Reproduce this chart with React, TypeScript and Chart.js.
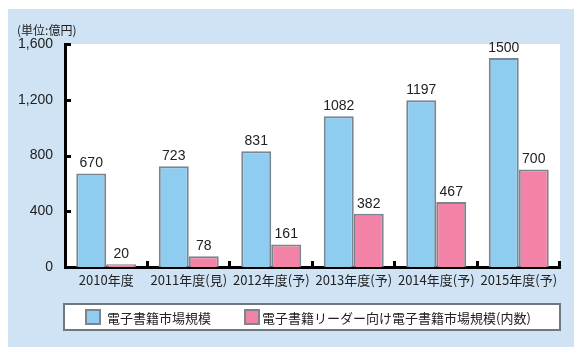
import React, { useEffect, useRef } from "react";
import { Chart, registerables } from "chart.js";

Chart.register(...registerables);

const categories = ["2010年度", "2011年度(見)", "2012年度(予)", "2013年度(予)", "2014年度(予)", "2015年度(予)"];
const marketSize = [670, 723, 831, 1082, 1197, 1500];
const readerMarket = [20, 78, 161, 382, 467, 700];
const seriesLabels = ["電子書籍市場規模", "電子書籍リーダー向け電子書籍市場規模(内数)"];
const yTicks = [0, 400, 800, 1200, 1600];
const unitLabel = "(単位:億円)";

const BLUE = "#8ecdf0";
const PINK = "#f283a6";
const EDGE = "#7b8591";
const PANEL = "#cfe3f5";
const FONT = '"Liberation Sans", "Noto Sans CJK JP", sans-serif';
const CJK = '"Noto Sans CJK JP", sans-serif';

const decor = {
  id: "decor",
  beforeDraw(chart: any) {
    const { ctx, chartArea } = chart;
    ctx.save();
    ctx.fillStyle = PANEL;
    ctx.fillRect(0, 1, 566, 338);
    ctx.fillStyle = "#ffffff";
    ctx.fillRect(chartArea.left, chartArea.top, chartArea.right - chartArea.left, chartArea.bottom - chartArea.top);
    ctx.fillStyle = "#222";
    ctx.font = "12px " + CJK;
    ctx.textBaseline = "middle";
    ctx.textAlign = "left";
    ctx.fillText(unitLabel, 9, 22);
    ctx.restore();
  },
  afterDraw(chart: any) {
    const { ctx, chartArea, scales } = chart;
    const y = scales.y;
    ctx.save();
    ctx.strokeStyle = "#000";
    ctx.lineWidth = 3;
    yTicks.forEach((v) => {
      if (v === 0) return;
      const py = Math.round(y.getPixelForValue(v)) + 0.5;
      ctx.beginPath();
      ctx.moveTo(chartArea.left, py);
      ctx.lineTo(chartArea.left + 6, py);
      ctx.stroke();
    });
    const n = categories.length;
    const w = (chartArea.right - chartArea.left) / n;
    for (let i = 1; i <= n; i++) {
      const px = Math.round(chartArea.left + i * w) - 0.5;
      ctx.beginPath();
      ctx.moveTo(px, chartArea.bottom);
      ctx.lineTo(px, chartArea.bottom - 6);
      ctx.stroke();
    }
    ctx.fillStyle = "#222";
    ctx.font = "14px " + FONT;
    ctx.textAlign = "center";
    ctx.textBaseline = "bottom";
    chart.data.datasets.forEach((ds: any, di: number) => {
      const meta = chart.getDatasetMeta(di);
      meta.data.forEach((bar: any, i: number) => {
        ctx.fillText(String(ds.data[i]), bar.x, bar.y - 3);
      });
    });
    const lx = 56, ly = 296, lw = 496, lh = 26;
    ctx.fillStyle = "#fff";
    ctx.fillRect(lx, ly, lw, lh);
    ctx.strokeStyle = "#6f7780";
    ctx.lineWidth = 2;
    ctx.strokeRect(lx, ly, lw, lh);
    const items = [
      { sx: 78, tx: 99 },
      { sx: 237, tx: 254 },
    ];
    chart.data.datasets.forEach((ds: any, di: number) => {
      const it = items[di];
      ctx.fillStyle = ds.backgroundColor;
      ctx.fillRect(it.sx, ly + 6, 14, 14);
      ctx.strokeStyle = EDGE;
      ctx.lineWidth = 2;
      ctx.strokeRect(it.sx, ly + 6, 14, 14);
      ctx.fillStyle = "#222";
      ctx.font = "13px " + CJK;
      ctx.textAlign = "left";
      ctx.textBaseline = "middle";
      ctx.fillText(ds.label, it.tx, ly + lh / 2 + 1);
    });
    ctx.restore();
  },
};

export default function App() {
  const ref = useRef<HTMLCanvasElement | null>(null);
  useEffect(() => {
    if (!ref.current) return;
    const chart = new Chart(ref.current, {
      type: "bar",
      data: {
        labels: categories,
        datasets: [
          {
            label: seriesLabels[0],
            data: marketSize,
            backgroundColor: BLUE,
            borderColor: EDGE,
            borderWidth: 2,
            categoryPercentage: 0.727,
            barPercentage: 1,
          },
          {
            label: seriesLabels[1],
            data: readerMarket,
            backgroundColor: PINK,
            borderColor: EDGE,
            borderWidth: 2,
            categoryPercentage: 0.727,
            barPercentage: 1,
          },
        ],
      },
      options: {
        animation: false,
        responsive: false,
        maintainAspectRatio: false,
        layout: { padding: { left: 0, right: 25, top: 36, bottom: 61 } },
        plugins: { legend: { display: false }, tooltip: { enabled: false } },
        scales: {
          x: {
            grid: { display: false, drawTicks: false },
            border: { display: true, color: "#000", width: 3 },
            ticks: { color: "#222", font: { size: 13, family: CJK }, padding: 5, maxRotation: 0, autoSkip: false },
            afterFit: (s: any) => { s.height = 30; },
          },
          y: {
            min: 0,
            max: 1600,
            grid: { display: false, drawTicks: false },
            border: { display: true, color: "#000", width: 3 },
            afterBuildTicks: (s: any) => { s.ticks = yTicks.map((v) => ({ value: v })); },
            ticks: {
              color: "#222",
              font: { size: 14, family: FONT },
              padding: 12,
              callback: (v: any) => Number(v).toLocaleString("en-US"),
            },
            afterFit: (s: any) => { s.width = 57; },
          },
        },
      },
      plugins: [decor],
    });
    return () => chart.destroy();
  }, []);
  return (
    <div style={{ width: 577, height: 350 }}>
      <canvas ref={ref} width={577} height={350} style={{ width: 577, height: 350, display: "block" }} />
    </div>
  );
}
